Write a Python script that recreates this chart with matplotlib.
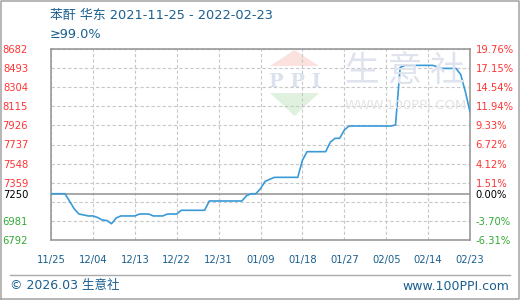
import matplotlib
matplotlib.use("Agg")
import matplotlib.pyplot as plt
import matplotlib.dates as mdates
from matplotlib.patches import Polygon
from matplotlib.lines import Line2D
from matplotlib.ticker import FixedLocator
import pandas as pd

# ---------------- data ----------------
start_date = "2021-11-25"
end_date = "2022-02-23"
prices = [
    7250, 7250, 7250, 7250, 7175, 7100, 7049, 7040, 7030, 7030,   # d0-9
    7015, 6990, 6985, 6953, 7010, 7030, 7030, 7030, 7030, 7049,   # d10-19
    7049, 7049, 7030, 7030, 7030, 7049, 7049, 7049, 7086, 7086,   # d20-29
    7086, 7086, 7086, 7086, 7178, 7178, 7178, 7178, 7178, 7178,   # d30-39
    7178, 7178, 7230, 7250, 7250, 7300, 7373, 7393, 7412, 7412,   # d40-49
    7412, 7412, 7412, 7412, 7580, 7666, 7666, 7666, 7666, 7666,   # d50-59
    7760, 7798, 7798, 7880, 7920, 7920, 7920, 7920, 7920, 7920,   # d60-69
    7920, 7920, 7920, 7920, 7930, 8500, 8520, 8520, 8520, 8520,   # d70-79
    8520, 8520, 8520, 8505, 8490, 8490, 8490, 8490, 8430, 8260,   # d80-89
    8060,                                                         # d90
]
base_price = 7250
left_tick_values = [8682, 8493, 8304, 8115, 7926, 7737, 7548, 7359, 7250, 6981, 6792]
grid_values = [6792, 6981, 7170, 7359, 7548, 7737, 7926, 8115, 8304, 8493, 8682]
right_tick_labels = ["19.76%", "17.15%", "14.54%", "11.94%", "9.33%", "6.72%",
                     "4.12%", "1.51%", "0.00%", "-3.70%", "-6.31%"]
x_tick_labels = ["11/25", "12/04", "12/13", "12/22", "12/31", "01/09",
                 "01/18", "01/27", "02/05", "02/14", "02/23"]
title_text = "苯酐 华东 2021-11-25 - 2022-02-23"
subtitle_text = "≥99.0%"

# ---------------- style ----------------
W, H = 520, 300
RED = "#ff3333"
GREEN = "#33aa33"
BLUE_TXT = "#1a5f8f"
LINE = "#3a9ad9"
FONT = ["DejaVu Sans", "Noto Sans CJK SC"]
plt.rcParams["font.family"] = FONT

fig = plt.figure(figsize=(W / 100, H / 100), dpi=100)
fig.patch.set_facecolor("white")

def fx(px):
    return px / W

def fy(py):
    return 1 - py / H

# outer frame + separator
fig.add_artist(Line2D([0.001, 0.999, 0.999, 0.001, 0.001],
                      [0.002, 0.002, 0.998, 0.998, 0.002],
                      transform=fig.transFigure, color="#aaaaaa", lw=1.2))
fig.add_artist(Line2D([fx(10), fx(510)], [fy(275), fy(275)],
                      transform=fig.transFigure, color="#aaaaaa", lw=1.0))

# watermark logo
fig.add_artist(Polygon([[fx(270), fy(66)], [fx(294.5), fy(50)], [fx(319), fy(66)]],
                       closed=True, transform=fig.transFigure,
                       facecolor="#fbe2df", edgecolor="none", zorder=0))
fig.add_artist(Polygon([[fx(270), fy(93)], [fx(319), fy(93)], [fx(294.5), fy(116)]],
                       closed=True, transform=fig.transFigure,
                       facecolor="#e0f1e0", edgecolor="none", zorder=0))
fig.text(fx(294.5), fy(82), "P P I", ha="center", va="center", fontsize=14,
         family="DejaVu Serif", fontweight="bold", color="#dbe1ee", zorder=0)
fig.text(fx(405), fy(72), "生 意 社", ha="center", va="center", fontsize=25,
         family=["Noto Sans CJK SC"], color="#dfe3ed", zorder=0)
fig.text(fx(406), fy(106), "WWW.100PPI.COM", ha="center", va="center", fontsize=9.5,
         color="#e4e4e4", zorder=0)

# axes
ax = fig.add_axes([fx(51), fy(240), fx(470) - fx(51), fy(49) - fy(240)])
ax.patch.set_alpha(0)
dates = pd.date_range(start_date, end_date, freq="D")
ax.plot(dates, prices, color=LINE, lw=1.2, zorder=3)

ax.set_ylim(grid_values[0], grid_values[-1])
ax.set_xlim(pd.Timestamp(start_date), pd.Timestamp(end_date))

xt = pd.date_range(start_date, end_date, freq="9D")
ax.set_xticks(xt)
ax.set_xticklabels(x_tick_labels, color=BLUE_TXT, fontsize=7.2)
ax.tick_params(axis="x", length=0, pad=11)

ax.xaxis.remove_overlapping_locs = False
ax.yaxis.remove_overlapping_locs = False
ax.yaxis.set_minor_locator(FixedLocator(grid_values))
ax.xaxis.set_minor_locator(FixedLocator(mdates.date2num(xt)))
ax.grid(which="minor", color="#c8c8c8", linestyle=(0, (3, 2)), lw=0.8)
ax.grid(which="major", visible=False)
ax.axhline(base_price, color="#999999", lw=1.2, zorder=2)

ax.set_yticks(left_tick_values)
ax.set_yticklabels([str(v) for v in left_tick_values], fontsize=7.2)
ax.tick_params(axis="y", which="both", length=0, pad=16.5)
ax.tick_params(axis="x", which="minor", length=0)
for lab, v in zip(ax.get_yticklabels(), left_tick_values):
    lab.set_color(RED if v > base_price else ("black" if v == base_price else GREEN))

for s in ax.spines.values():
    s.set_color("#999999")
    s.set_linewidth(1.2)

ax2 = ax.twinx()
ax2.set_ylim(ax.get_ylim())
ax2.set_yticks(left_tick_values)
ax2.set_yticklabels(right_tick_labels, fontsize=7.2)
ax2.tick_params(axis="y", length=0, pad=4)
for lab, v in zip(ax2.get_yticklabels(), left_tick_values):
    lab.set_color(RED if v > base_price else ("black" if v == base_price else GREEN))
for s in ax2.spines.values():
    s.set_visible(False)

# titles & footer
fig.text(fx(50), fy(15), title_text, ha="left", va="center", fontsize=9.3,
         color=BLUE_TXT, family=FONT)
fig.text(fx(50), fy(35), subtitle_text, ha="left", va="center", fontsize=9.3,
         color=BLUE_TXT, family=FONT)
fig.text(fx(10), fy(286), "© 2026.03 生意社", ha="left", va="center", fontsize=9,
         color=BLUE_TXT, family=FONT)
fig.text(fx(509), fy(286), "www.100PPI.com", ha="right", va="center", fontsize=9,
         color=BLUE_TXT, family=FONT)

fig.savefig("out.png", dpi=100, facecolor="white")
